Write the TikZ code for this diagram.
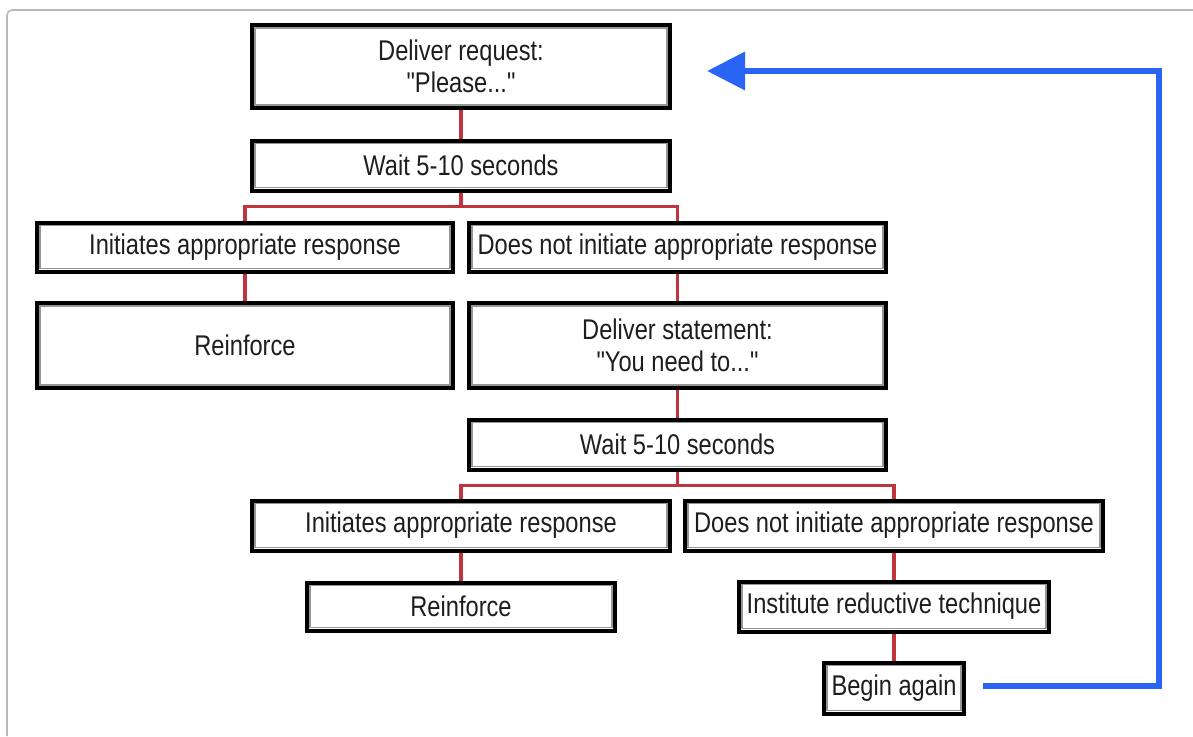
\documentclass[tikz,border=0pt]{standalone}
\usepackage{fontspec}
\setmainfont{Liberation Sans}[FakeStretch=0.83, Ligatures=TeXOff]
\usetikzlibrary{arrows.meta,backgrounds}
\definecolor{linkred}{RGB}{192,52,62}
\definecolor{loopblue}{RGB}{42,100,244}
\definecolor{innergray}{RGB}{150,150,150}
\definecolor{framegray}{RGB}{185,185,185}
\definecolor{inkdark}{RGB}{30,30,30}
\begin{document}
\begin{tikzpicture}[x=1pt,y=-1pt,
  stepbox/.style={draw=black, line width=4pt, fill=white, align=center,
    text=inkdark, inner sep=0pt,
    font=\fontsize{28.5}{32}\selectfont,
    path picture={\draw[innergray, line width=1.6pt]
      ([shift={(2.9pt,2.9pt)}]path picture bounding box.south west) rectangle
      ([shift={(-2.9pt,-2.9pt)}]path picture bounding box.north east);}},
  link/.style={draw=linkred, line width=3.2pt},
  loop/.style={draw=loopblue, line width=6.5pt}]
\useasboundingbox (0,0) rectangle (1193,736);
% outer frame
\draw[framegray, line width=1.6pt] (7,736) -- (7,15) arc[start angle=180, end angle=90, radius=5pt] -- (1193,10);

% boxes
\node[stepbox, minimum width=418, minimum height=83] (req) at (461,66.5) {Deliver request:\\"Please..."};
\node[stepbox, minimum width=418, minimum height=50] (wait1) at (461,165.5) {Wait 5-10 seconds};
\node[stepbox, minimum width=416, minimum height=49] (yes1) at (245,247) {Initiates appropriate response};
\node[stepbox, minimum width=416, minimum height=85] (rein1) at (245,345.5) {Reinforce};
\node[stepbox, minimum width=417, minimum height=49] (no1) at (677.5,247) {Does not initiate appropriate response};
\node[stepbox, minimum width=417, minimum height=85] (stmt) at (677.5,345.5) {Deliver statement:\\"You need to..."};
\node[stepbox, minimum width=417, minimum height=50] (wait2) at (677.5,444.5) {Wait 5-10 seconds};
\node[stepbox, minimum width=418, minimum height=50] (yes2) at (461,525.5) {Initiates appropriate response};
\node[stepbox, minimum width=418, minimum height=50] (no2) at (894,525.5) {Does not initiate appropriate response};
\node[stepbox, minimum width=308, minimum height=48] (rein2) at (461,606.5) {Reinforce};
\node[stepbox, minimum width=310, minimum height=50] (reduce) at (894,606.5) {Institute reductive technique};
\node[stepbox, minimum width=140, minimum height=51] (again) at (894,688) {Begin again};

% red connectors, kept behind the boxes
\begin{scope}[on background layer]
\draw[link] (req.south) -- (wait1.north);
\draw[link] (wait1.south) -- ++(0,14) -| (yes1.north);
\draw[link] (wait1.south) -- ++(0,14) -| (no1.north);
\draw[link] (yes1.south) -- (rein1.north);
\draw[link] (no1.south) -- (stmt.north);
\draw[link] (stmt.south) -- (wait2.north);
\draw[link] (wait2.south) -- ++(0,14) -| (yes2.north);
\draw[link] (wait2.south) -- ++(0,14) -| (no2.north);
\draw[link] (yes2.south) -- (rein2.north);
\draw[link] (no2.south) -- (reduce.north);
\draw[link] (reduce.south) -- (again.north);
\end{scope}

% blue return loop
\coordinate (loopstart) at (983,686);
\coordinate (loopturn) at (1159,686);
\coordinate (loopend) at (707,71);
\draw[loop, -{Triangle[length=38pt,width=37pt]}] (loopstart) -- (loopturn) |- (loopend);
\end{tikzpicture}
\end{document}
